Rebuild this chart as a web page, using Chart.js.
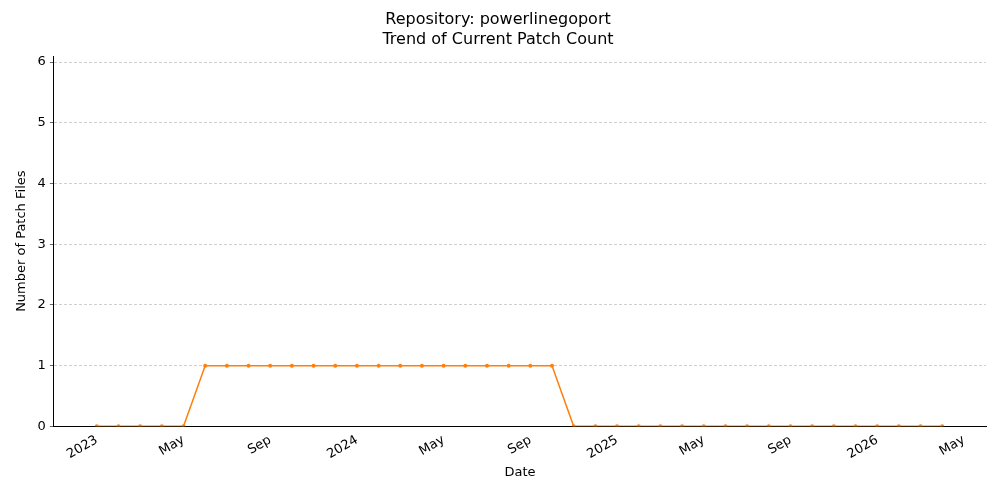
<!DOCTYPE html>
<html><head><meta charset="utf-8">
<script src="https://cdn.jsdelivr.net/npm/chart.js@4"></script>
<style>html,body{margin:0;background:#fff}#w{width:1000px;height:500px}</style>
</head><body><div id="w"><canvas id="c"></canvas></div>
<script>
const months = ["2023-01","2023-02","2023-03","2023-04","2023-05","2023-06","2023-07","2023-08","2023-09","2023-10","2023-11","2023-12",
"2024-01","2024-02","2024-03","2024-04","2024-05","2024-06","2024-07","2024-08","2024-09","2024-10","2024-11","2024-12",
"2025-01","2025-02","2025-03","2025-04","2025-05","2025-06","2025-07","2025-08","2025-09","2025-10","2025-11","2025-12",
"2026-01","2026-02","2026-03","2026-04"];
const patchCounts = [0,0,0,0,0,1,1,1,1,1,1,1,1,1,1,1,1,1,1,1,1,1,0,0,0,0,0,0,0,0,0,0,0,0,0,0,0,0,0,0];
const tickLabels = ["2023","May","Sep","2024","May","Sep","2025","May","Sep","2026","May"];
const yTicks = [0,1,2,3,4,5,6];
const pts = months.map((m,i)=>({x:i,y:patchCounts[i]}));
const F = "'DejaVu Sans', sans-serif";
const frame = {id:'frame',afterDraw(ch){const a=ch.chartArea,c=ch.ctx;c.save();c.strokeStyle='#000';c.lineWidth=1;c.strokeRect(a.left,a.top,a.right-a.left,a.bottom-a.top);c.restore();}};
new Chart(document.getElementById('c'),{
 type:'line',
 data:{datasets:[{data:pts,borderColor:'#ff7f0e',backgroundColor:'#ff7f0e',borderWidth:1.5,pointRadius:2,pointBorderWidth:0,tension:0}]},
 options:{responsive:true,maintainAspectRatio:false,animation:false,
  layout:{padding:{left:10,right:14,top:0,bottom:16}},
  plugins:{legend:{display:false},tooltip:{enabled:false},
   title:{display:true,text:['Repository: powerlinegoport','Trend of Current Patch Count'],color:'#000',font:{family:F,size:16,weight:'normal',lineHeight:1.25},padding:{top:10,bottom:6}}},
  scales:{
   x:{type:'linear',min:-1.98,max:41.02,
     afterBuildTicks:a=>{a.ticks=tickLabels.map((t,i)=>({value:i*4}));},
     ticks:{callback:(v,i)=>tickLabels[i],minRotation:30,maxRotation:30,color:'#000',font:{family:F,size:13},padding:2},
     grid:{display:false,drawTicks:true,tickLength:4,color:'#000'},border:{color:'#000'},
     title:{display:true,text:'Date',color:'#000',font:{family:F,size:13},padding:{top:0}}},
   y:{min:0,max:6.1,
     afterBuildTicks:a=>{a.ticks=yTicks.map(v=>({value:v}));},
     ticks:{color:'#000',font:{family:F,size:13},padding:4},
     grid:{color:'#b0b0b0',lineWidth:0.6,tickLength:4,tickColor:'#000'},border:{color:'#000',dash:[3,2]},
     title:{display:true,text:'Number of Patch Files',color:'#000',font:{family:F,size:13}}}
  }}
},);
Chart.register(frame);
</script></body></html>
